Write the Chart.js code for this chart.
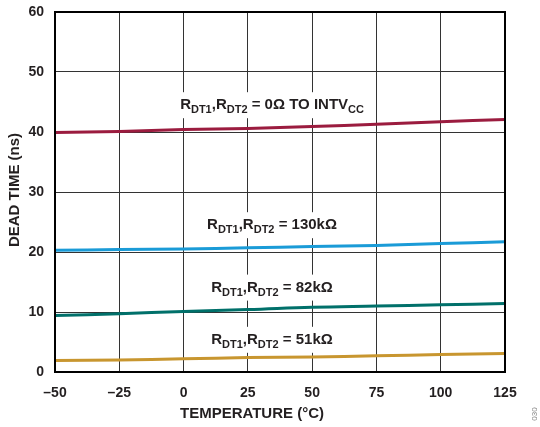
<!DOCTYPE html>
<html>
<head>
<meta charset="utf-8">
<script src="https://cdn.jsdelivr.net/npm/chart.js@4.4.1/dist/chart.umd.min.js"></script>
<style>
  html, body { margin: 0; padding: 0; background: #fff; }
  #wrap { width: 540px; height: 427px; position: relative; }
</style>
</head>
<body>
<div id="wrap"><canvas id="deadTimeChart" width="540" height="427"></canvas></div>
<script>
// temperature sweep (°C) and dead time (ns) per resistor setting
const temps = [-50, -25, 0, 25, 50, 75, 100, 125];
const rdt0 = [39.9, 40.1, 40.4, 40.6, 40.9, 41.3, 41.7, 42.1];
const rdt130k = [20.3, 20.4, 20.5, 20.7, 20.9, 21.1, 21.4, 21.7];
const rdt82k = [9.4, 9.7, 10.1, 10.4, 10.8, 11.0, 11.2, 11.4];
const rdt51k = [1.9, 2.0, 2.2, 2.4, 2.5, 2.7, 2.9, 3.1];
const xTicks = [-50, -25, 0, 25, 50, 75, 100, 125];
const yTicks = [0, 10, 20, 30, 40, 50, 60];

const TEXT = '#231f20';
const FONT = 'Liberation Sans, Arial, Helvetica, sans-serif';

const toPoints = vals => temps.map((t, i) => ({ x: t, y: vals[i] }));

function series(vals, color) {
    return {
        data: toPoints(vals),
        borderColor: color,
        borderWidth: 3,
        pointRadius: 0,
        tension: 0.4,
        fill: false
    };
}

// curve labels, anchored at (temp, ns) of the text baseline centre
const curveLabels = [
    { x: 34.4, y: 43.8, tail: ' = 0\u03A9 TO INTV', sub: 'CC' },
    { x: 34.4, y: 23.8, tail: ' = 130k\u03A9' },
    { x: 34.4, y: 13.4, tail: ' = 82k\u03A9' },
    { x: 34.4, y: 4.7, tail: ' = 51k\u03A9' }
];

function labelParts(lbl) {
    const parts = [
        ['R', false], ['DT1', true], [',', false], ['R', false], ['DT2', true], [lbl.tail, false]
    ];
    if (lbl.sub) parts.push([lbl.sub, true]);
    return parts;
}

const decorPlugin = {
    id: 'decor',
    beforeDatasetsDraw(chart) {
        const { ctx, scales } = chart;
        ctx.save();
        curveLabels.forEach(lbl => {
            const parts = labelParts(lbl);
            let w = 0;
            parts.forEach(([t, s]) => {
                ctx.font = 'bold ' + (s ? 11 : 15) + 'px ' + FONT;
                w += ctx.measureText(t).width;
            });
            const cx = scales.x.getPixelForValue(lbl.x);
            const by = scales.y.getPixelForValue(lbl.y);
            let x = cx - w / 2;
            ctx.fillStyle = '#fff';
            ctx.fillRect(x - 2, by - 17, w + 4, 26);
            ctx.fillStyle = TEXT;
            ctx.textBaseline = 'alphabetic';
            ctx.textAlign = 'left';
            parts.forEach(([t, s]) => {
                ctx.font = 'bold ' + (s ? 11 : 15) + 'px ' + FONT;
                ctx.fillText(t, x, s ? by + 4 : by);
                x += ctx.measureText(t).width;
            });
        });
        ctx.restore();
    },
    afterDraw(chart) {
        const { ctx, chartArea: a } = chart;
        ctx.save();
        // plot frame
        ctx.strokeStyle = '#000';
        ctx.lineWidth = 2;
        ctx.strokeRect(a.left, a.top, a.right - a.left, a.bottom - a.top);

        ctx.fillStyle = TEXT;
        ctx.font = 'bold 15px ' + FONT;
        ctx.textAlign = 'center';
        ctx.textBaseline = 'middle';
        ctx.fillText('TEMPERATURE (\u00B0C)', 252, 414);

        ctx.translate(15, 190);
        ctx.rotate(-Math.PI / 2);
        ctx.fillText('DEAD TIME (ns)', 0, 0);
        ctx.restore();

        ctx.save();
        ctx.translate(535, 414);
        ctx.rotate(-Math.PI / 2);
        ctx.fillStyle = '#888';
        ctx.font = '8px ' + FONT;
        ctx.textAlign = 'center';
        ctx.textBaseline = 'middle';
        ctx.fillText('030', 0, 0);
        ctx.restore();
    }
};

const ctx = document.getElementById('deadTimeChart').getContext('2d');
const deadTimeChart = new Chart(ctx, {
    type: 'line',
    data: {
        datasets: [
            series(rdt0, '#9b1c3f'),
            series(rdt130k, '#1a9bd7'),
            series(rdt82k, '#00706a'),
            series(rdt51k, '#c8962f')
        ]
    },
    options: {
        responsive: false,
        animation: false,
        layout: { padding: { top: 12, right: 35, left: 0, bottom: 0 } },
        plugins: { legend: { display: false }, tooltip: { enabled: false } },
        scales: {
            x: {
                type: 'linear',
                min: -50,
                max: 125,
                afterBuildTicks: s => { s.ticks = xTicks.map(v => ({ value: v })); },
                afterFit: s => { s.height = 55; },
                grid: { color: '#333', lineWidth: 1, drawTicks: false },
                border: { display: false },
                ticks: {
                    padding: 13,
                    color: TEXT,
                    font: { family: FONT, size: 14, weight: 'bold' },
                    callback: v => String(v).replace('-', '\u2013')
                }
            },
            y: {
                min: 0,
                max: 60,
                afterBuildTicks: s => { s.ticks = yTicks.map(v => ({ value: v })); },
                afterFit: s => { s.width = 55; s.paddingTop = 0; s.paddingBottom = 0; },
                grid: { color: '#333', lineWidth: 1, drawTicks: false },
                border: { display: false },
                ticks: {
                    padding: 11,
                    color: TEXT,
                    font: { family: FONT, size: 14, weight: 'bold' }
                }
            }
        }
    },
    plugins: [decorPlugin]
});
</script>
</body>
</html>
